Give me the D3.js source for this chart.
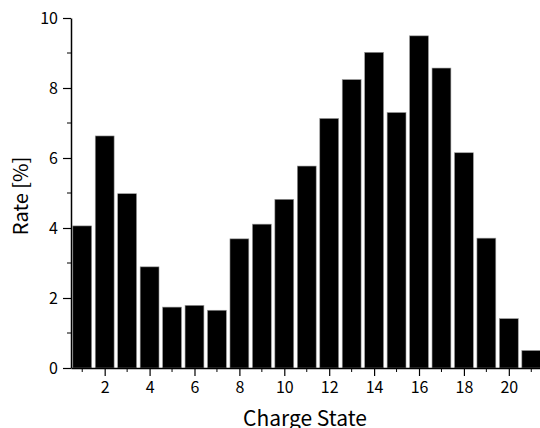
<!DOCTYPE html>
<html lang="en">
<head>
<meta charset="utf-8">
<script src="https://d3js.org/d3.v7.min.js"></script>
<style>
  body { margin: 0; background: #fff; }
  svg { display: block; font-family: "Noto Sans CJK JP", "Liberation Sans", sans-serif; }
</style>
</head>
<body>
<svg id="chart"></svg>
<script>
    // charge states and measured rates [%]
    const chargeStates = d3.range(1, 22);
    const rates = [4.06, 6.63, 4.98, 2.89, 1.74, 1.79, 1.65, 3.69, 4.11, 4.82, 5.77,
                   7.13, 8.24, 9.02, 7.30, 9.49, 8.57, 6.15, 3.71, 1.41, 0.50];
    const xMajorTicks = [2, 4, 6, 8, 10, 12, 14, 16, 18, 20];
    const xMinorTicks = [1, 3, 5, 7, 9, 11, 13, 15, 17, 19, 21];
    const yMajorTicks = [0, 2, 4, 6, 8, 10];
    const yMinorTicks = [1, 3, 5, 7, 9];

    let width = 540, height = 428;
    let plotLeft = 71, plotTop = 18, plotBottom = 368, plotRight = 542.5;

    let svg = d3.select("#chart").attr("width", width).attr("height", height);

    let x = d3.scaleLinear().domain([0.5, 21.5]).range([plotLeft, plotRight]);
    let y = d3.scaleLinear().domain([0, 10]).range([plotBottom, plotTop]);
    let barW = (x(2) - x(1)) * 0.84;

    // bars
    svg.append("g")
        .selectAll("rect")
        .data(chargeStates)
        .enter()
        .append("rect")
        .attr("x", (d) => x(d) - barW / 2)
        .attr("y", (d, i) => y(rates[i]))
        .attr("width", barW)
        .attr("height", (d, i) => y(0) - y(rates[i]))
        .attr("fill", "#000")
        .attr("stroke", "#999")
        .attr("stroke-width", 0.6);

    // x axis
    let xAxis = svg.append("g").attr("transform", `translate(0,${plotBottom})`);
    xAxis.call(d3.axisBottom(x).tickValues(xMajorTicks).tickSize(8).tickPadding(6).tickSizeOuter(0));
    xAxis.append("g")
        .selectAll("line")
        .data(xMinorTicks)
        .enter()
        .append("line")
        .attr("x1", (d) => x(d)).attr("x2", (d) => x(d))
        .attr("y1", 0).attr("y2", 4)
        .attr("stroke", "#000");

    // y axis
    let yAxis = svg.append("g").attr("transform", `translate(${plotLeft},0)`);
    yAxis.call(d3.axisLeft(y).tickValues(yMajorTicks).tickSize(8).tickPadding(5).tickSizeOuter(0));
    yAxis.append("g")
        .selectAll("line")
        .data(yMinorTicks)
        .enter()
        .append("line")
        .attr("x1", 0).attr("x2", -4)
        .attr("y1", (d) => y(d)).attr("y2", (d) => y(d))
        .attr("stroke", "#000");

    svg.selectAll(".domain").attr("stroke", "#000").attr("stroke-width", 1.5);
    svg.selectAll(".tick line").attr("stroke", "#000").attr("stroke-width", 1.2);
    svg.selectAll(".tick text")
        .attr("font-family", "'Noto Sans CJK JP', sans-serif")
        .attr("font-size", 16)
        .attr("fill", "#000");

    // axis titles
    svg.append("text")
        .attr("x", 305)
        .attr("y", 426)
        .attr("text-anchor", "middle")
        .attr("font-size", 21)
        .text("Charge State");

    svg.append("text")
        .attr("transform", "translate(28,196) rotate(-90)")
        .attr("text-anchor", "middle")
        .attr("font-size", 20)
        .text("Rate [%]");
</script>
</body>
</html>
